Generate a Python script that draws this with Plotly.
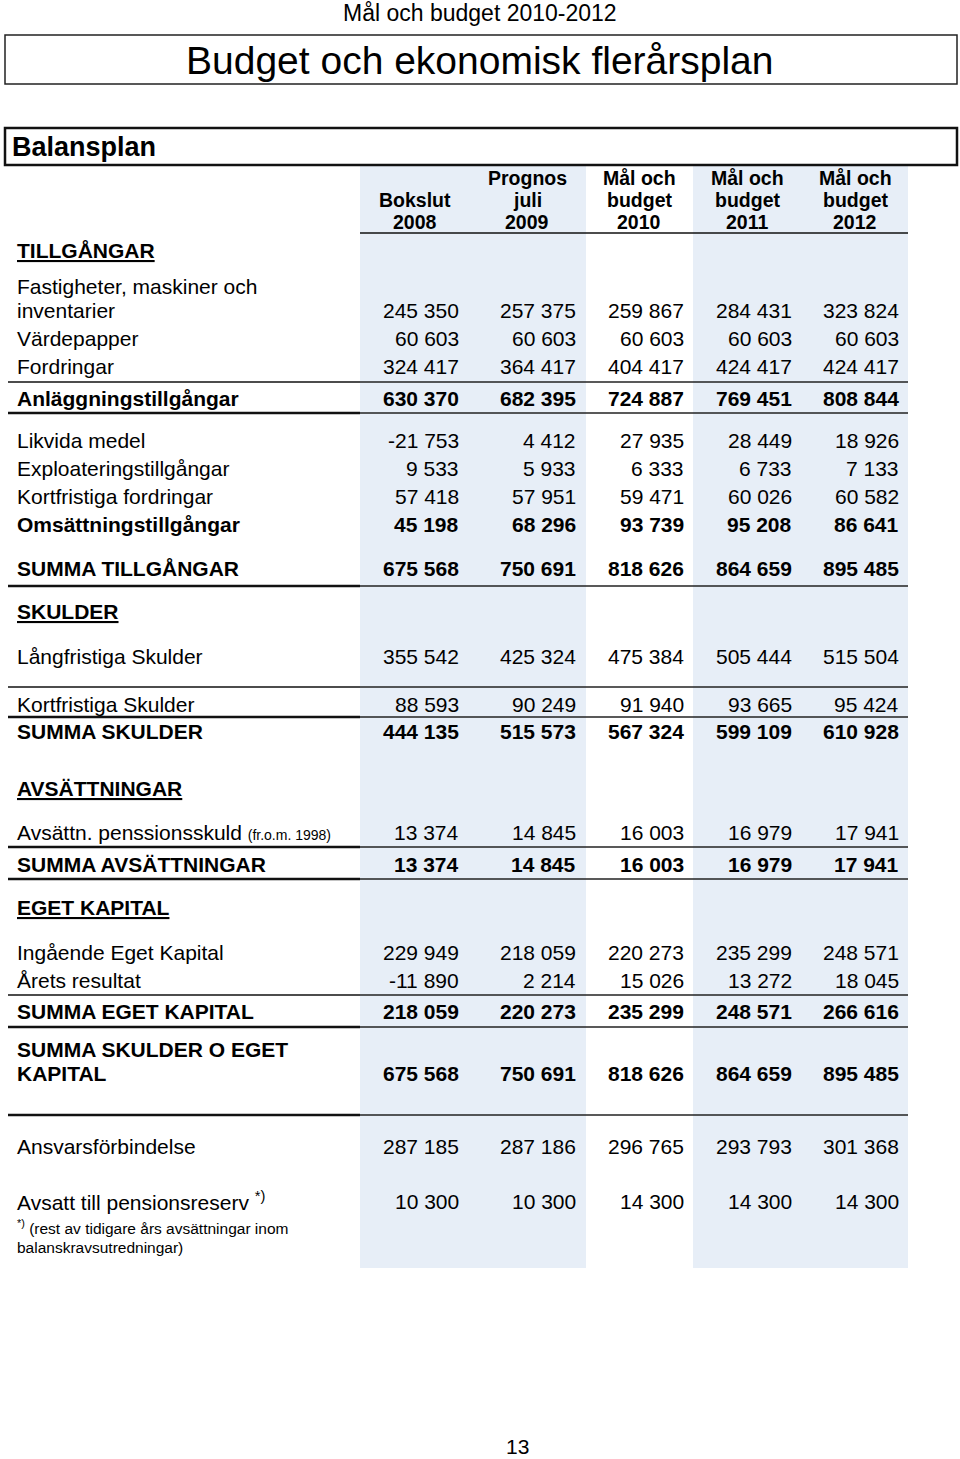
import plotly.graph_objects as go

# ---------------- data ----------------
page_header = "Mål och budget 2010-2012"
title = "Budget och ekonomisk flerårsplan"
table_title = "Balansplan"
page_number = "13"

col_headers = [
    ["", "Bokslut", "2008"],
    ["Prognos", "juli", "2009"],
    ["Mål och", "budget", "2010"],
    ["Mål och", "budget", "2011"],
    ["Mål och", "budget", "2012"],
]

sections = ["TILLGÅNGAR", "SKULDER", "AVSÄTTNINGAR", "EGET KAPITAL"]

row_labels = [
    "Fastigheter, maskiner och<br>inventarier",
    "Värdepapper",
    "Fordringar",
    "Anläggningstillgångar",
    "Likvida medel",
    "Exploateringstillgångar",
    "Kortfristiga fordringar",
    "Omsättningstillgångar",
    "SUMMA TILLGÅNGAR",
    "Långfristiga Skulder",
    "Kortfristiga Skulder",
    "SUMMA SKULDER",
    "Avsättn. penssionsskuld <span style='font-size:14px'>(fr.o.m. 1998)</span>",
    "SUMMA AVSÄTTNINGAR",
    "Ingående Eget Kapital",
    "Årets resultat",
    "SUMMA EGET KAPITAL",
    "SUMMA SKULDER O EGET<br>KAPITAL",
    "Ansvarsförbindelse",
    "Avsatt till pensionsreserv <sup>*)</sup>",
]

bokslut_2008 = [245350, 60603, 324417, 630370, -21753, 9533, 57418, 45198, 675568,
                355542, 88593, 444135, 13374, 13374, 229949, -11890, 218059, 675568,
                287185, 10300]
prognos_2009 = [257375, 60603, 364417, 682395, 4412, 5933, 57951, 68296, 750691,
                425324, 90249, 515573, 14845, 14845, 218059, 2214, 220273, 750691,
                287186, 10300]
budget_2010 = [259867, 60603, 404417, 724887, 27935, 6333, 59471, 93739, 818626,
               475384, 91940, 567324, 16003, 16003, 220273, 15026, 235299, 818626,
               296765, 14300]
budget_2011 = [284431, 60603, 424417, 769451, 28449, 6733, 60026, 95208, 864659,
               505444, 93665, 599109, 16979, 16979, 235299, 13272, 248571, 864659,
               293793, 14300]
budget_2012 = [323824, 60603, 424417, 808844, 18926, 7133, 60582, 86641, 895485,
               515504, 95424, 610928, 17941, 17941, 248571, 18045, 266616, 895485,
               301368, 14300]

footnote_lines = ["<sup>*)</sup> (rest av tidigare års avsättningar inom",
                  "balanskravsutredningar)"]

# ---------------- layout config ----------------
W, H = 960, 1459
FONT = "Liberation Sans, Arial, Helvetica, sans-serif"
BODY = 21
columns = [bokslut_2008, prognos_2009, budget_2010, budget_2011, budget_2012]
col_right = [461, 578, 686, 794, 901]
col_center = [415, 527, 639, 747, 855]
header_y = [178, 200, 222]
row_y = [310, 338, 366, 398, 440, 468, 496, 524, 568, 656, 704, 731, 832, 864,
         952, 980, 1011, 1073, 1146, 1201]
bold_rows = {3, 7, 8, 11, 13, 16, 17}
section_y = [250, 611, 788, 907]
label_x = 15
line_gap = 24
shade_bands = [(360, 586), (693, 908)]
shade_top, shade_bottom = 166, 1268
SHADE = "#e7eef7"
# rules: (y, left width, right width)
rules = [(382, 1.5, 1.5), (413, 2.5, 1.5), (586, 2.5, 1.5), (687, 1.5, 1.5),
         (717, 2.5, 1.5), (847, 2.5, 1.5), (879, 2.5, 1.5), (995, 1.5, 1.5),
         (1027, 2.5, 1.5), (1115, 2.5, 1.5)]


def fmt(v):
    return f"{v:,}".replace(",", " ")


fig = go.Figure()
shapes = []
ann = []

# shaded columns
for x0, x1 in shade_bands:
    shapes.append(dict(type="rect", xref="x", yref="y", x0=x0, x1=x1,
                       y0=shade_top, y1=shade_bottom, fillcolor=SHADE,
                       line=dict(width=0), layer="below"))

# title boxes
shapes.append(dict(type="rect", xref="x", yref="y", x0=5, x1=957, y0=35, y1=84,
                   line=dict(color="#222", width=1.5), fillcolor="rgba(0,0,0,0)"))
shapes.append(dict(type="rect", xref="x", yref="y", x0=5, x1=957, y0=128, y1=165,
                   line=dict(color="#111", width=2.5), fillcolor="rgba(0,0,0,0)"))

# header rule
shapes.append(dict(type="line", xref="x", yref="y", x0=360, x1=908, y0=233, y1=233,
                   line=dict(color="#111", width=1.5)))

# horizontal rules
for y, wl, wr in rules:
    shapes.append(dict(type="line", xref="x", yref="y", x0=8, x1=360, y0=y, y1=y,
                       line=dict(color="#111", width=wl)))
    shapes.append(dict(type="line", xref="x", yref="y", x0=360, x1=908, y0=y, y1=y,
                       line=dict(color="#222", width=wr)))


def add_text(x, y, text, size=BODY, xanchor="left", bold=False):
    if bold:
        text = f"<b>{text}</b>"
    ann.append(dict(x=x, y=y, xref="x", yref="y", text=text, showarrow=False,
                    xanchor=xanchor, yanchor="middle",
                    font=dict(family=FONT, size=size, color="black")))


add_text(480, 13, page_header, size=23, xanchor="center")
add_text(480, 60, title, size=39, xanchor="center")
add_text(10, 147, table_title, size=27, bold=True)

for c, lines in enumerate(col_headers):
    for k, t in enumerate(lines):
        if t:
            add_text(col_center[c], header_y[k], t, size=19.5, xanchor="center", bold=True)

for s, y in zip(sections, section_y):
    add_text(label_x, y, f"<u>{s}</u>", bold=True)

for i, lab in enumerate(row_labels):
    parts = lab.split("<br>")
    n = len(parts)
    for k, p in enumerate(parts):
        add_text(label_x, row_y[i] - (n - 1 - k) * line_gap, p, bold=i in bold_rows)
    for c, col in enumerate(columns):
        add_text(col_right[c], row_y[i], fmt(col[i]), xanchor="right", bold=i in bold_rows)

add_text(label_x, 1227, footnote_lines[0], size=15.5)
add_text(label_x, 1247, footnote_lines[1], size=15.5)
add_text(517, 1446, page_number, size=21, xanchor="center")

fig.update_layout(
    width=W, height=H, margin=dict(l=0, r=0, t=0, b=0),
    paper_bgcolor="white", plot_bgcolor="white",
    xaxis=dict(range=[0, W], visible=False, fixedrange=True),
    yaxis=dict(range=[H, 0], visible=False, fixedrange=True),
    shapes=shapes, annotations=ann, showlegend=False,
)
fig.write_html(
    "out.html",
    config={"displayModeBar": False},
    post_script="document.body.style.margin='0';document.body.style.overflow='hidden';",
)
